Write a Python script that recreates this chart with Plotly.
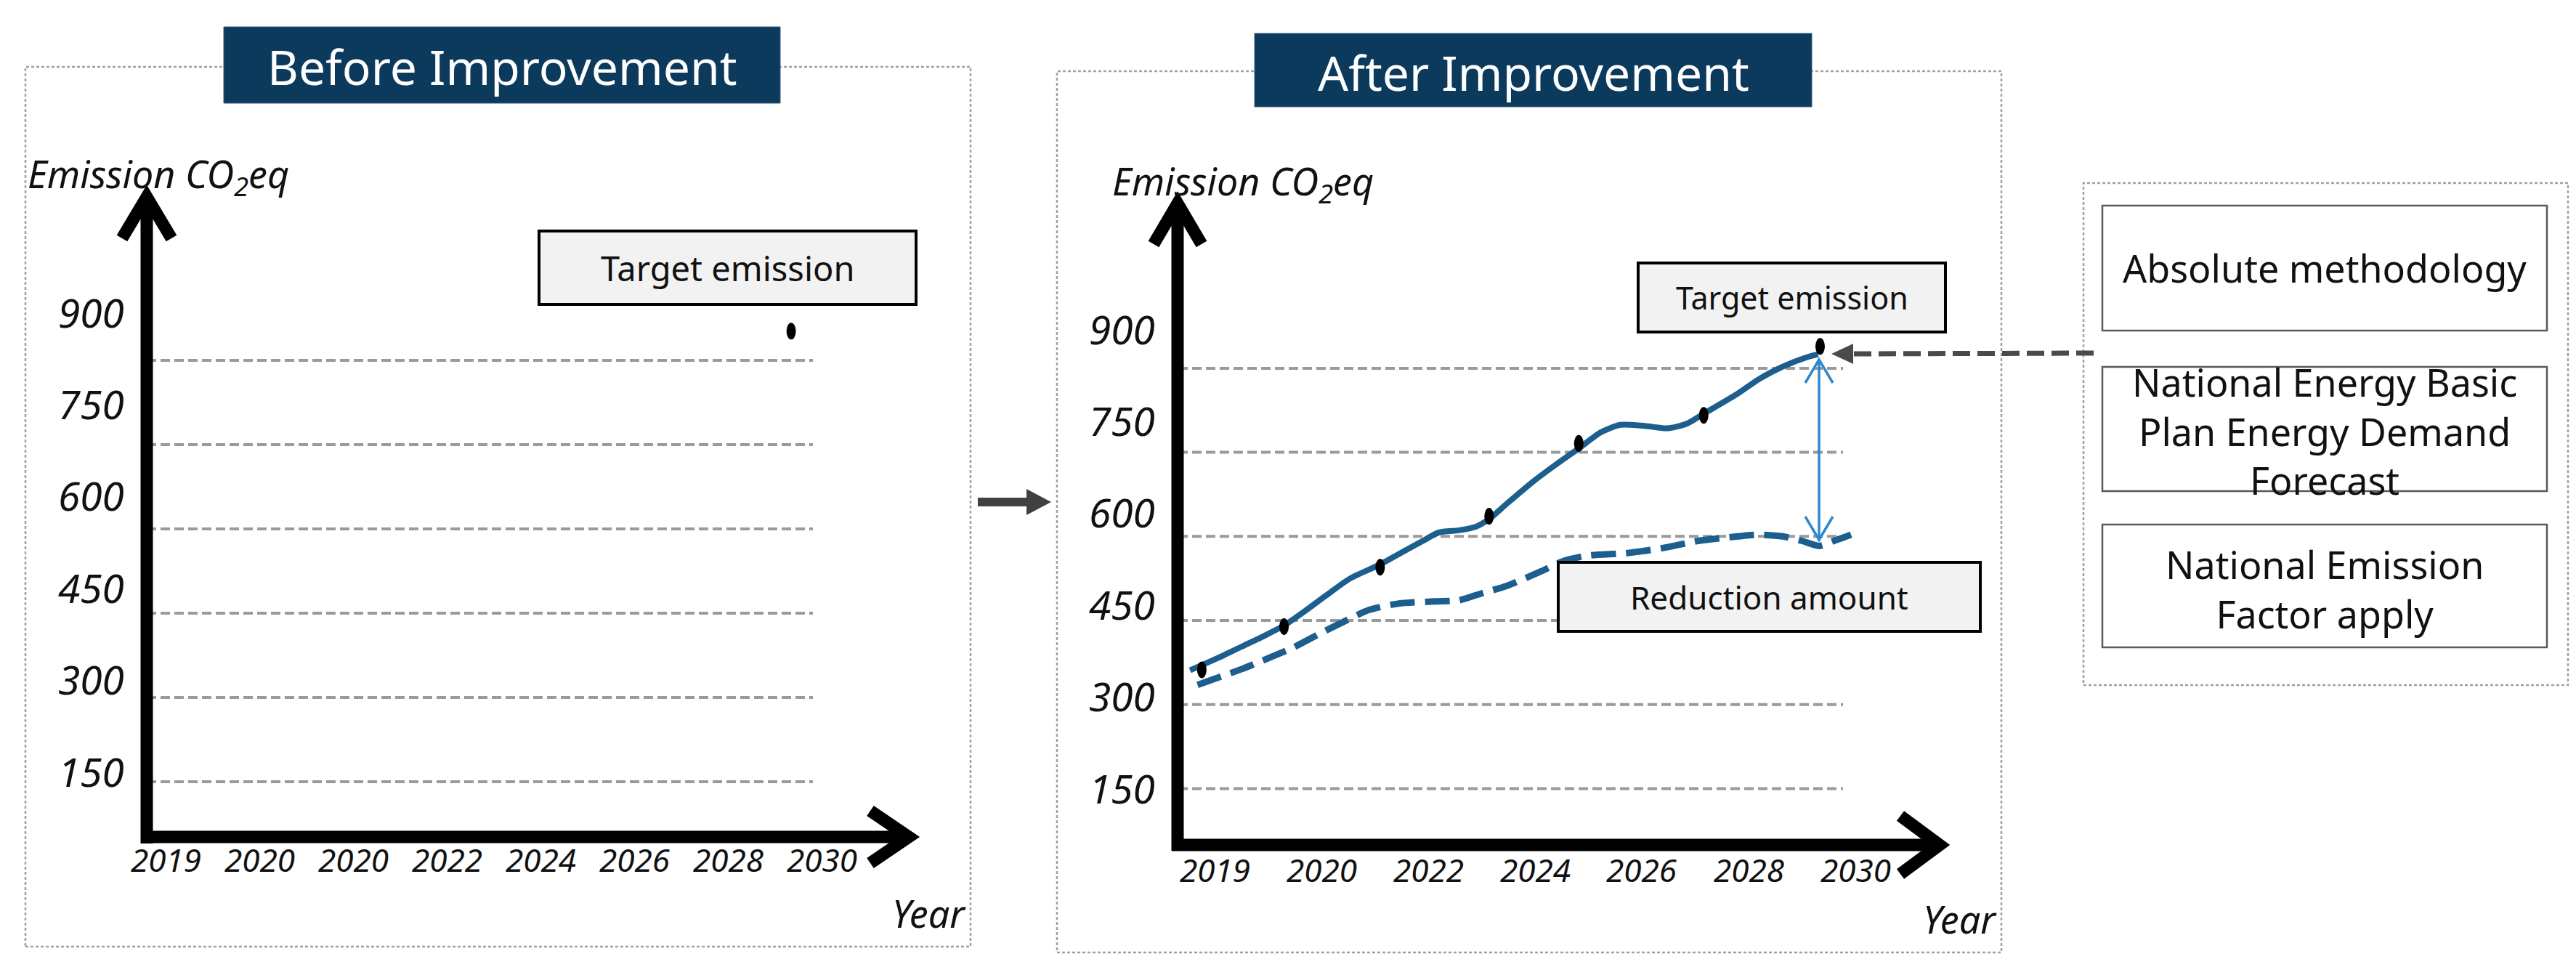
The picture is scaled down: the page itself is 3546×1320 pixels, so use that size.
import plotly.graph_objects as go

# ---------------- data ----------------
Y_TICKS = [150, 300, 450, 600, 750, 900]
LEFT_YEARS = ["2019", "2020", "2020", "2022", "2024", "2026", "2028", "2030"]
RIGHT_YEARS = ["2019", "2020", "2022", "2024", "2026", "2028", "2030"]

# Before improvement: only the target emission point (x in tick-index units)
BEFORE_TARGET_X = [6.67]
BEFORE_TARGET_V = [952]

# After improvement: solid emission path (BAU forecast)
SOLID_X = [-0.23, 0.02, 0.25, 0.47, 0.65, 0.84, 1.04, 1.27, 1.55, 1.72, 1.95, 2.10,
           2.29, 2.44, 2.57, 2.74, 2.97, 3.18, 3.41, 3.62, 3.80, 4.03, 4.24, 4.42,
           4.58, 4.90, 5.10, 5.32, 5.55, 5.65]
SOLID_V = [361, 382, 403, 423, 441, 466, 494, 525, 550, 568, 592, 607,
           611, 617, 631, 659, 696, 726, 757, 786, 799, 797, 793, 801,
           819, 855, 881, 903, 920, 925]
# marker points on the solid path (last one = target emission)
MARK_X = [-0.12, 0.65, 1.55, 2.57, 3.41, 4.58, 5.67]
MARK_V = [362, 439, 545, 636, 766, 816, 939]
# dashed (reduced) path
DASH_X = [-0.16, 0.25, 0.52, 0.74, 0.97, 1.20, 1.45, 1.72, 2.06, 2.29, 2.51, 2.74,
          3.06, 3.28, 3.51, 3.85, 4.19, 4.53, 4.90, 5.10, 5.32, 5.50, 5.66, 5.80, 5.96]
DASH_V = [335, 363, 384, 402, 425, 447, 469, 480, 484, 486, 499, 512,
          538, 557, 566, 570, 579, 592, 600, 603, 600, 592, 583, 592, 603]

RIGHT_BOX_TEXT = ["Absolute methodology",
                  "National Energy Basic<br>Plan Energy Demand<br>Forecast",
                  "National Emission<br>Factor apply"]

# ---------------- layout constants ----------------
W, H = 3546, 1320
FONT = "Noto Sans"
NAVY = "#0b3a5c"
LINE_BLUE = "#1c5e8e"
ARROW_BLUE = "#2f88cf"
GRID = "#9a9a9a"

# pixel calibration of the two panels
L_X0, L_DX, L_VREF, L_PREF, L_DY = 220.0, 129.1, 150.0, 1068.0, 0.7733
R_X0, R_DX, R_VREF, R_PREF, R_DY = 1664.0, 147.0, 300.0, 961.7, 0.7713


def px(x):
    return x / W


def py(y):
    return 1 - y / H


def path(points, close=False):
    s = "M " + " L ".join(f"{px(a):.6f},{py(b):.6f}" for a, b in points)
    return s + (" Z" if close else "")


def lv(pix_y):  # left panel: pixel row -> data value
    return L_VREF + (L_PREF - pix_y) / L_DY


def rv(pix_y):
    return R_VREF + (R_PREF - pix_y) / R_DY


def li(pix_x):
    return (pix_x - L_X0) / L_DX


def ri(pix_x):
    return (pix_x - R_X0) / R_DX


fig = go.Figure()

# ---------------- traces (after panel) ----------------
fig.add_trace(go.Scatter(x=DASH_X, y=DASH_V, mode="lines", xaxis="x2", yaxis="y2",
                         line=dict(color=LINE_BLUE, width=9, dash="34px,14px",
                                   shape="spline", smoothing=0.7),
                         hoverinfo="skip", showlegend=False))
fig.add_trace(go.Scatter(x=SOLID_X, y=SOLID_V, mode="lines", xaxis="x2", yaxis="y2",
                         line=dict(color=LINE_BLUE, width=8, shape="spline", smoothing=0.7),
                         hoverinfo="skip", showlegend=False))
fig.add_trace(go.Scatter(x=MARK_X, y=MARK_V, mode="markers", xaxis="x2", yaxis="y2",
                         marker=dict(color="black", size=12), showlegend=False))
fig.add_trace(go.Scatter(x=BEFORE_TARGET_X, y=BEFORE_TARGET_V, mode="markers",
                         xaxis="x", yaxis="y",
                         marker=dict(color="black", size=12), showlegend=False))

shapes = []
ann = []

# ---------------- outer dotted frames ----------------
for (x0, y0, x1, y1) in [(27, 84, 1328, 1295), (1447, 90, 2747, 1303), (2860, 244, 3527, 935)]:
    shapes.append(dict(type="rect", xref="paper", yref="paper", x0=px(x0), x1=px(x1),
                       y0=py(y1), y1=py(y0), line=dict(color="#a0a0a0", width=2.5, dash="4px,3px"),
                       fillcolor="rgba(0,0,0,0)", layer="above"))

# ---------------- gridlines ----------------
for v in Y_TICKS:
    shapes.append(dict(type="line", xref="x", yref="y", x0=li(194), x1=li(1111), y0=v, y1=v,
                       line=dict(color=GRID, width=4, dash="13px,6px"), layer="below"))
    shapes.append(dict(type="line", xref="x2", yref="y2", x0=ri(1614), x1=ri(2529), y0=v, y1=v,
                       line=dict(color=GRID, width=4, dash="13px,6px"), layer="below"))

# ---------------- axis arrows ----------------
AX_W = 17
for pts in [
    [(194, 1153), (194, 262)], [(160, 320), (194, 263), (228, 320)],
    [(186, 1144), (1245, 1144)], [(1190, 1108), (1243, 1144), (1190, 1180)],
    [(1613, 1163), (1613, 272)], [(1580, 328), (1613, 272), (1646, 328)],
    [(1605, 1155), (2664, 1155)], [(2608, 1115), (2662, 1155), (2608, 1195)],
]:
    shapes.append(dict(type="path", xref="paper", yref="paper", path=path(pts),
                       line=dict(color="black", width=AX_W)))

# ---------------- title boxes ----------------
for (x0, y0, x1, y1, txt) in [(300, 29, 1066, 134, "Before Improvement"),
                              (1719, 38, 2486, 139, "After Improvement")]:
    shapes.append(dict(type="rect", xref="paper", yref="paper", x0=px(x0), x1=px(x1),
                       y0=py(y1), y1=py(y0), fillcolor=NAVY, line=dict(color="#3a5a78", width=1)))
    ann.append(dict(text=txt, x=px((x0 + x1) / 2), y=py((y0 + y1) / 2 + 2), xref="paper", yref="paper",
                    showarrow=False, font=dict(family=FONT, size=66, color="white"),
                    xanchor="center", yanchor="middle"))

# ---------------- labelled grey boxes ----------------
for (x0, y0, x1, y1, txt, fs) in [(734, 310, 1253, 411, "Target emission", 47),
                                  (2247, 354, 2670, 449, "Target emission", 43),
                                  (2137, 766, 2718, 861, "Reduction amount", 44)]:
    shapes.append(dict(type="rect", xref="paper", yref="paper", x0=px(x0), x1=px(x1),
                       y0=py(y1), y1=py(y0), fillcolor="#f2f2f2", line=dict(color="black", width=4)))
    ann.append(dict(text=txt, x=px((x0 + x1) / 2), y=py((y0 + y1) / 2), xref="paper", yref="paper",
                    showarrow=False, font=dict(family=FONT, size=fs, color="#111111"),
                    xanchor="center", yanchor="middle"))

# ---------------- right-hand method boxes ----------------
box_rows = [(275, 447, 360), (497, 668, 585), (714, 883, 802)]
for (y0, y1, ty), txt in zip(box_rows, RIGHT_BOX_TEXT):
    shapes.append(dict(type="rect", xref="paper", yref="paper", x0=px(2886), x1=px(3498),
                       y0=py(y1), y1=py(y0), fillcolor="white", line=dict(color="#595959", width=2.5)))
    ann.append(dict(text=txt, x=px(3192), y=py(ty), xref="paper", yref="paper",
                    showarrow=False, font=dict(family=FONT, size=52, color="#111111"),
                    xanchor="center", yanchor="middle", align="center"))

# ---------------- markers as vertical ellipses (anchored on data) ----------------
for mx, mv in zip(MARK_X, MARK_V):
    shapes.append(dict(type="circle", xref="x2", yref="y2", xsizemode="pixel", ysizemode="pixel",
                       xanchor=mx, yanchor=mv, x0=-6.5, x1=6.5, y0=-11.5, y1=11.5,
                       fillcolor="black", line=dict(width=0)))
for mx, mv in zip(BEFORE_TARGET_X, BEFORE_TARGET_V):
    shapes.append(dict(type="circle", xref="x", yref="y", xsizemode="pixel", ysizemode="pixel",
                       xanchor=mx, yanchor=mv, x0=-6.5, x1=6.5, y0=-11.5, y1=11.5,
                       fillcolor="black", line=dict(width=0)))

# ---------------- arrows ----------------
# middle arrow between panels
shapes.append(dict(type="path", xref="paper", yref="paper",
                   path=path([(1338, 677), (1405, 677), (1405, 665), (1439, 683), (1405, 701),
                              (1405, 689), (1338, 689)], close=True),
                   fillcolor="#404040", line=dict(width=0)))
# dashed grey arrow from method boxes to target point
shapes.append(dict(type="line", xref="paper", yref="paper", x0=px(2874), x1=px(2540),
                   y0=py(478), y1=py(479), line=dict(color="#4a4a4a", width=7, dash="24px,10px")))
shapes.append(dict(type="path", xref="paper", yref="paper",
                   path=path([(2513, 479), (2543, 465), (2543, 493)], close=True),
                   fillcolor="#4a4a4a", line=dict(width=0)))
# blue double arrow (reduction amount)
shapes.append(dict(type="line", xref="paper", yref="paper", x0=px(2496), x1=px(2496),
                   y0=py(737), y1=py(486), line=dict(color=ARROW_BLUE, width=3.5)))
for pts in [[(2477, 519), (2496, 487), (2515, 519)], [(2477, 703), (2496, 735), (2515, 703)]]:
    shapes.append(dict(type="path", xref="paper", yref="paper", path=path(pts),
                       line=dict(color=ARROW_BLUE, width=3.5)))

# ---------------- axis texts ----------------
IT = dict(family=FONT, color="#111111", style="italic")
for panel, (xr, yr) in enumerate([("x", "y"), ("x2", "y2")]):
    if panel == 0:
        lab_x, lab_top, lab_bot, years, yrow = li(165), 421, 1053, LEFT_YEARS, 1175
        conv_v, conv_i = lv, li
        title_xy, year_xy = (210, 234), (1271, 1248)
    else:
        lab_x, lab_top, lab_bot, years, yrow = ri(1584), 444, 1076, RIGHT_YEARS, 1189
        conv_v, conv_i = rv, ri
        title_xy, year_xy = (1703, 244), (2690, 1256)
    vt0, vt1 = conv_v(lab_bot), conv_v(lab_top)
    for v in Y_TICKS:
        yv = vt0 + (v - Y_TICKS[0]) * (vt1 - vt0) / (Y_TICKS[-1] - Y_TICKS[0])
        ann.append(dict(text=str(v), x=lab_x, y=yv, xref=xr, yref=yr, showarrow=False,
                        font=dict(size=55, **IT), xanchor="right", yanchor="middle"))
    for i, t in enumerate(years):
        ann.append(dict(text=t, x=i, y=conv_v(yrow), xref=xr, yref=yr, showarrow=False,
                        font=dict(size=44, **IT), xanchor="center", yanchor="middle"))
    ann.append(dict(text="Emission CO<sub>2</sub>eq", x=conv_i(title_xy[0]), y=conv_v(title_xy[1]),
                    xref=xr, yref=yr, showarrow=False, font=dict(size=52, **IT),
                    xanchor="center", yanchor="middle"))
    ann.append(dict(text="Year", x=conv_i(year_xy[0]), y=conv_v(year_xy[1]), xref=xr, yref=yr,
                    showarrow=False, font=dict(size=52, **IT), xanchor="center", yanchor="middle"))

hidden = dict(visible=False, showgrid=False, zeroline=False, fixedrange=True)
fig.update_layout(
    width=W, height=H, autosize=False,
    margin=dict(l=0, r=0, t=0, b=0, pad=0),
    paper_bgcolor="white", plot_bgcolor="rgba(0,0,0,0)",
    showlegend=False,
    xaxis=dict(domain=[0, 1], range=[li(0), li(W)], anchor="y", **hidden),
    yaxis=dict(domain=[0, 1], range=[lv(H), lv(0)], anchor="x", **hidden),
    xaxis2=dict(domain=[0, 1], range=[ri(0), ri(W)], anchor="y2", **hidden),
    yaxis2=dict(domain=[0, 1], range=[rv(H), rv(0)], anchor="x2", **hidden),
    shapes=shapes,
    annotations=ann,
)

fig.write_html("out.html")
